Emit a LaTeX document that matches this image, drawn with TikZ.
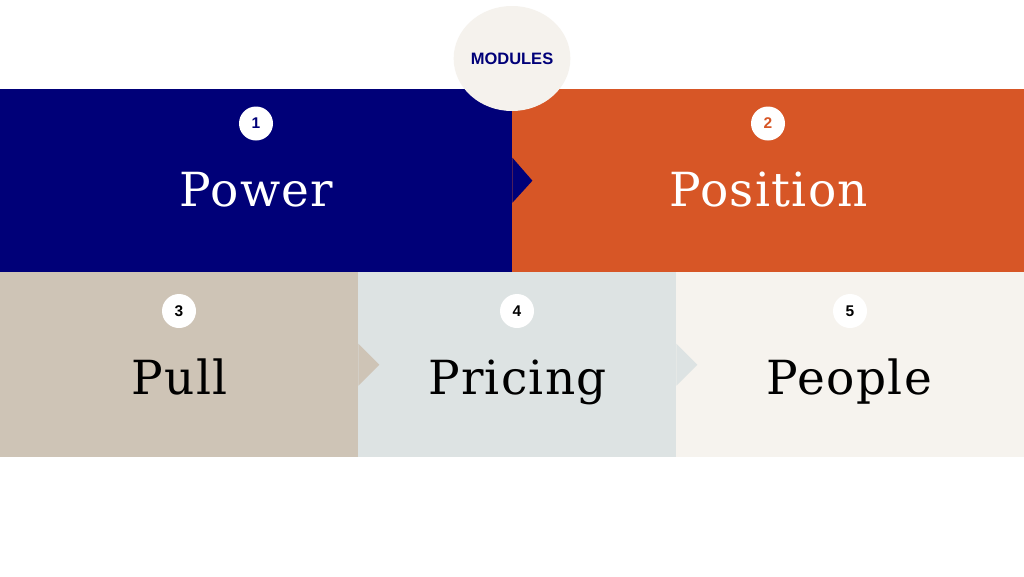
\documentclass[tikz,border=0pt]{standalone}
\usepackage{fontspec}
\setmainfont{DejaVu Serif}
\newfontfamily\labelfont[LetterSpace=2.8]{DejaVu Serif}
\newfontfamily\numfont{Liberation Sans}
\usetikzlibrary{calc,shapes.geometric}
\definecolor{navyc}{RGB}{0,0,120}
\definecolor{orangec}{RGB}{215,86,38}
\definecolor{beigec}{RGB}{206,196,182}
\definecolor{greyc}{RGB}{221,227,227}
\definecolor{creamc}{RGB}{246,243,238}
\definecolor{modc}{RGB}{245,242,237}
\tikzset{
  block/.style={rectangle, draw=none, inner sep=0pt, anchor=north west},
  bigtext/.style={font=\labelfont\fontsize{47}{56}\selectfont, anchor=base, inner sep=0pt},
  numbadge/.style={circle, fill=white, minimum size=34pt, inner sep=0pt,
    font=\numfont\bfseries\fontsize{15.5}{18}\selectfont},
}
\begin{document}
\begin{tikzpicture}[x=1pt,y=-1pt]
\useasboundingbox (0,0) rectangle (1024,576);
\fill[white] (0,0) rectangle (1024,576);
% top row
\node[block, fill=navyc, minimum width=512pt, minimum height=183pt] (power) at (0,89) {};
\node[block, fill=orangec, minimum width=512pt, minimum height=183pt] (position) at (512,89) {};
% bottom row
\node[block, fill=beigec, minimum width=358pt, minimum height=185pt] (pull) at (0,272) {};
\node[block, fill=greyc, minimum width=318pt, minimum height=185pt] (pricing) at (358,272) {};
\node[block, fill=creamc, minimum width=348pt, minimum height=185pt] (people) at (676,272) {};
% arrow notches
\fill[navyc] ($(power.east)+(0,-23)$) -- ($(power.east)+(20,0)$) -- ($(power.east)+(0,22)$) -- cycle;
\fill[beigec] ($(pull.east)+(0,-21)$) -- ($(pull.east)+(21,0)$) -- ($(pull.east)+(0,21)$) -- cycle;
\fill[greyc] ($(pricing.east)+(0,-21)$) -- ($(pricing.east)+(21,0)$) -- ($(pricing.east)+(0,21)$) -- cycle;
% modules badge
\node[ellipse, fill=modc, minimum width=114pt, minimum height=105pt, inner sep=0pt,
  font=\numfont\bfseries\fontsize{16.5}{20}\selectfont, text=navyc] (modules) at (512,58.5) {MODULES};
% number badges
\node[numbadge, text=navyc] (n1) at (256,123.5) {1};
\node[numbadge, text=orangec] (n2) at (768,123.5) {2};
\node[numbadge, text=black] (n3) at (179,311) {3};
\node[numbadge, text=black] (n4) at (517,311) {4};
\node[numbadge, text=black] (n5) at (850,311) {5};
% labels
\node[bigtext, text=white] (tpower) at (256.5,206) {Power};
\node[bigtext, text=white] (tposition) at (768.5,206) {Position};
\node[bigtext, text=black] (tpull) at (179.5,394) {Pull};
\node[bigtext, text=black] (tpricing) at (517.5,394) {Pricing};
\node[bigtext, text=black] (tpeople) at (849.5,394) {People};
\end{tikzpicture}
\end{document}
